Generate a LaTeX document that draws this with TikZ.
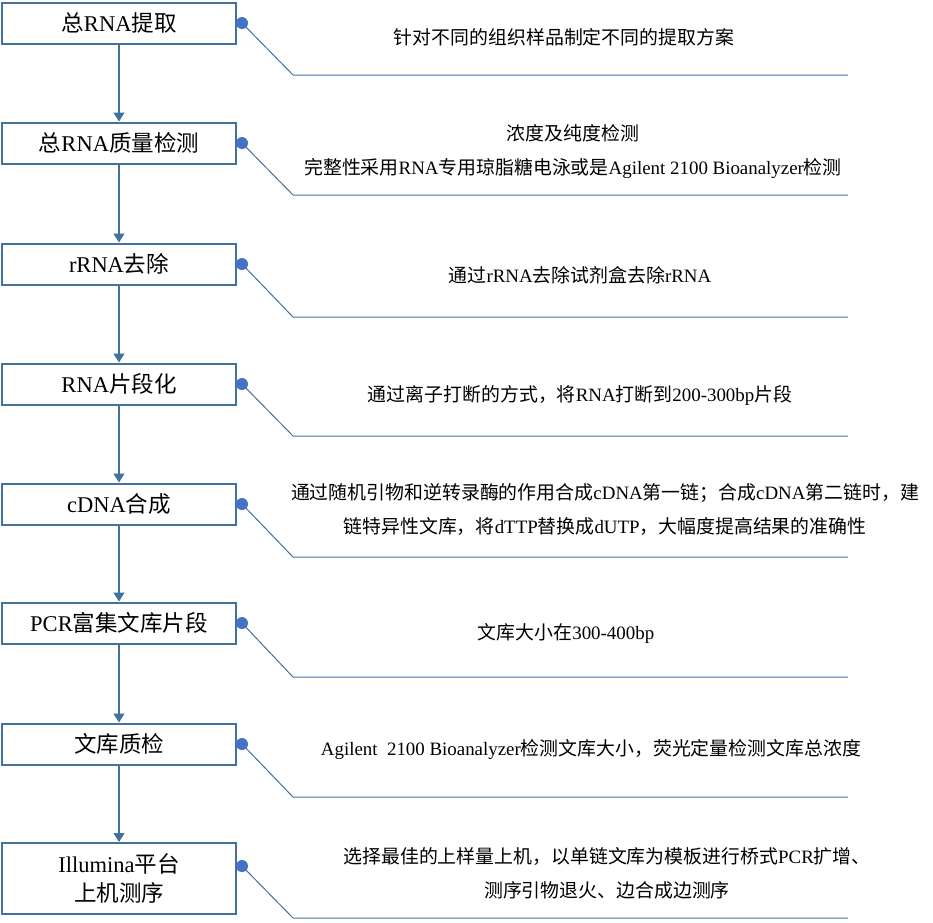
\documentclass[tikz,border=0pt]{standalone}
\usepackage{fontspec}
\setmainfont{Noto Sans CJK SC}
\newfontfamily\enfont{Liberation Serif}
\newcommand{\en}[1]{{\enfont #1}}
\usetikzlibrary{arrows.meta}
\definecolor{boxblue}{HTML}{41719C}
\definecolor{dotblue}{HTML}{4472C4}

\begin{document}
\begin{tikzpicture}[x=1pt, y=-1pt,
        stagebox/.style={draw=boxblue, line width=2pt, fill=white, minimum width=234pt, minimum height=41pt, inner sep=0pt, align=center, font=\fontsize{22.5}{28.5}\selectfont},
        dotnode/.style={circle, fill=dotblue, inner sep=0pt, minimum size=12pt},
        notetext/.style={align=center, inner sep=0pt, font=\fontsize{18.9}{34}\selectfont},
        flow/.style={draw=boxblue, line width=1.3pt, -{Triangle[width=11pt,length=9pt]}},
        leader/.style={draw=boxblue, line width=1pt}]
        \useasboundingbox (0,0) rectangle (933,922);

        % Steps
        \node[stagebox] (s1) at (119,23) {总\en{RNA}提取};
        \node[stagebox] (s2) at (119,143) {总\en{RNA}质量检测};
        \node[stagebox] (s3) at (119,264) {\en{rRNA}去除};
        \node[stagebox] (s4) at (119,384) {\en{RNA}片段化};
        \node[stagebox] (s5) at (119,504) {\en{cDNA}合成};
        \node[stagebox] (s6) at (119,623) {\en{PCR}富集文库片段};
        \node[stagebox] (s7) at (119,744) {文库质检};
        \node[stagebox, minimum height=71pt] (s8) at (119,878.5) {\en{Illumina}平台\\上机测序};

        \draw[flow] (s1) -- (s2);
        \draw[flow] (s2) -- (s3);
        \draw[flow] (s3) -- (s4);
        \draw[flow] (s4) -- (s5);
        \draw[flow] (s5) -- (s6);
        \draw[flow] (s6) -- (s7);
        \draw[flow] (s7) -- (s8);

        % Leaders
        \coordinate (c1) at (293,75);   \coordinate (e1) at (848,75);
        \coordinate (c2) at (293,195);  \coordinate (e2) at (848,195);
        \coordinate (c3) at (293,317);  \coordinate (e3) at (848,317);
        \coordinate (c4) at (293,436);  \coordinate (e4) at (848,436);
        \coordinate (c5) at (293,557);  \coordinate (e5) at (848,557);
        \coordinate (c6) at (293,677);  \coordinate (e6) at (848,677);
        \coordinate (c7) at (293,797);  \coordinate (e7) at (848,797);
        \coordinate (c8) at (293,918);  \coordinate (e8) at (848,918);

        \draw[leader] (242,23) -- (c1) -- (e1);
        \draw[leader] (242,143) -- (c2) -- (e2);
        \draw[leader] (242,264) -- (c3) -- (e3);
        \draw[leader] (242,384) -- (c4) -- (e4);
        \draw[leader] (242,504) -- (c5) -- (e5);
        \draw[leader] (242,623) -- (c6) -- (e6);
        \draw[leader] (242,744) -- (c7) -- (e7);
        \draw[leader] (242,866) -- (c8) -- (e8);

        \node[dotnode] (d1) at (242,23) {};
        \node[dotnode] (d2) at (242,143) {};
        \node[dotnode] (d3) at (242,264) {};
        \node[dotnode] (d4) at (242,384) {};
        \node[dotnode] (d5) at (242,504) {};
        \node[dotnode] (d6) at (242,623) {};
        \node[dotnode] (d7) at (242,744) {};
        \node[dotnode] (d8) at (242,866) {};

        % Notes
        \node[notetext] (n1) at (564,37) {针对不同的组织样品制定不同的提取方案};
        \node[notetext] (n2) at (573,151.5) {浓度及纯度检测\\完整性采用\en{RNA}专用琼脂糖电泳或是\en{Agilent 2100 Bioanalyzer}检测};
        \node[notetext] (n3) at (580,275) {通过\en{rRNA}去除试剂盒去除\en{rRNA}};
        \node[notetext] (n4) at (580,395) {通过离子打断的方式，将\en{RNA}打断到\en{200-300bp}片段};
        \node[notetext] (n5) at (605,510) {通过随机引物和逆转录酶的作用合成\en{cDNA}第一链；合成\en{cDNA}第二链时，建\\链特异性文库，将\en{dTTP}替换成\en{dUTP}，大幅度提高结果的准确性};
        \node[notetext] (n6) at (566,633) {文库大小在\en{300-400bp}};
        \node[notetext] (n7) at (591,750) {\en{Agilent\ \ 2100 Bioanalyzer}检测文库大小，荧光定量检测文库总浓度};
        \node[notetext] (n8) at (607,873.5) {选择最佳的上样量上机，以单链文库为模板进行桥式\en{PCR}扩增、\\测序引物退火、边合成边测序};
    \end{tikzpicture}
\end{document}
